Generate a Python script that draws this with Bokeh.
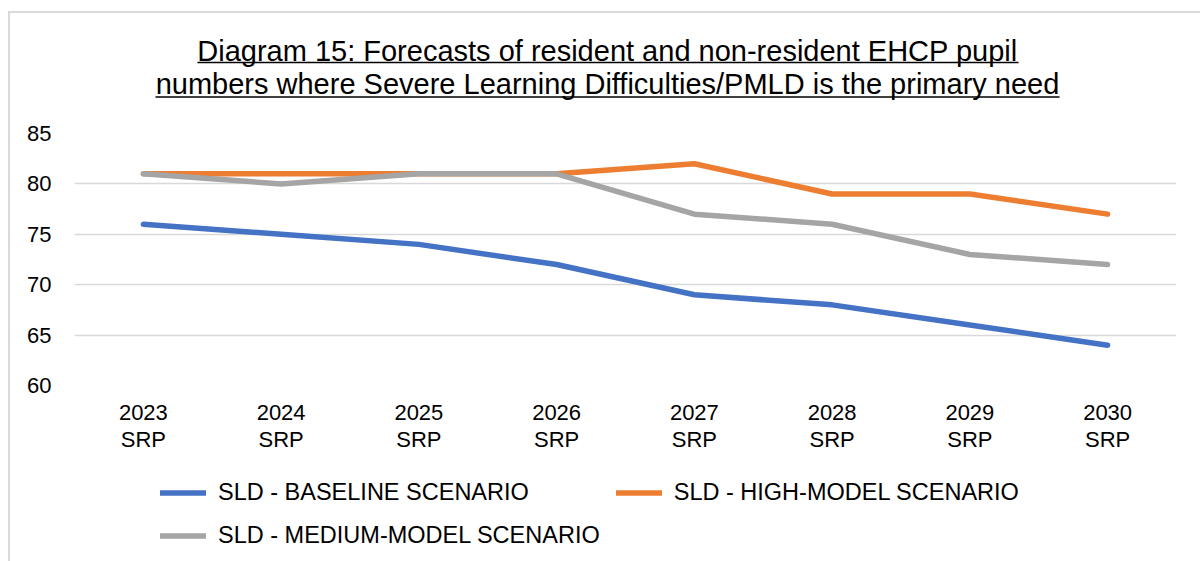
from bokeh.plotting import figure
from bokeh.models import Range1d, Legend, LegendItem, FactorRange
from bokeh.layouts import column
from bokeh.core.properties import value
from bokeh.embed import file_html
from bokeh.resources import INLINE

categories = ["2023\nSRP", "2024\nSRP", "2025\nSRP", "2026\nSRP", "2027\nSRP", "2028\nSRP", "2029\nSRP", "2030\nSRP"]
baseline = [76, 75, 74, 72, 69, 68, 66, 64]
high_model = [81, 81, 81, 81, 82, 79, 79, 77]
medium_model = [81, 80, 81, 81, 77, 76, 73, 72]
series_names = ["SLD - BASELINE SCENARIO", "SLD - HIGH-MODEL SCENARIO", "SLD - MEDIUM-MODEL SCENARIO"]
colors = ["#4472C4", "#ED7D31", "#A5A5A5"]
y_ticks = [60, 65, 70, 75, 80, 85]
title_lines = ["Diagram 15: Forecasts of resident and non-resident EHCP pupil",
               "numbers where Severe Learning Difficulties/PMLD is the primary need"]

FONT = "Liberation Sans"
BL, BR, FW = 64, 24, 1102          # shared borders / frame width (frames are aligned in the column)


def blank(height, x_range, y_range):
    f = figure(frame_width=FW, frame_height=height, x_range=x_range, y_range=y_range,
               x_axis_type=None, y_axis_type=None, output_backend="svg", toolbar_location=None,
               min_border_left=BL, min_border_right=BR, min_border_top=0, min_border_bottom=0)
    f.outline_line_color = None
    f.xgrid.grid_line_color = None
    f.ygrid.grid_line_color = None
    return f


# ---- title block (page pixel coordinates: x 74..1176, y 13..118) ----
pt = blank(105, Range1d(74, 1176), Range1d(118, 13))
pt.text(x=[607, 607], y=[50, 83], text=title_lines, text_align="center", text_baseline="middle",
        text_font=value(FONT), text_font_size="29px", text_color="black")
pt.segment(x0=[197, 155], x1=[1018, 1059], y0=[62, 96.5], y1=[62, 96.5], line_color="black", line_width=1.6)

# ---- main chart ----
p = figure(frame_width=FW, frame_height=252, x_range=FactorRange(*categories, range_padding=0),
           y_range=Range1d(60, 85), output_backend="svg", toolbar_location=None,
           min_border_left=BL, min_border_right=BR, min_border_top=15, min_border_bottom=75)
p.x_range.factor_padding = 0
p.outline_line_color = None
p.xgrid.grid_line_color = None
p.ygrid.grid_line_color = "#D9D9D9"
p.ygrid.grid_line_width = 1.5
p.yaxis.ticker = y_ticks

for ax in (p.xaxis[0], p.yaxis[0]):
    ax.axis_line_color = None
    ax.major_tick_line_color = None
    ax.minor_tick_line_color = None
    ax.major_label_text_font = FONT
    ax.major_label_text_font_size = "22px"
    ax.major_label_text_color = "black"
p.yaxis.major_label_standoff = 17
p.xaxis.major_label_standoff = 8
p.xaxis.major_label_text_line_height = 1.1

for vals, col in zip([baseline, high_model, medium_model], colors):
    p.line(categories, vals, line_color=col, line_width=5.5, line_cap="round", line_join="round")

# ---- legend block ----
pl = blank(101, Range1d(0, 1), Range1d(0, 1))
dummies = [pl.line(x=[-5, -4], y=[-5, -4], line_color=c, line_width=5.5, line_cap="round") for c in colors]
order = [0, 2, 1]
legend = Legend(items=[LegendItem(label=series_names[i], renderers=[dummies[i]]) for i in order],
                ncols=2, label_text_font=FONT, label_text_font_size="23.5px", label_text_color="black",
                glyph_width=46, glyph_height=25, label_height=25, border_line_color=None,
                background_fill_alpha=0, spacing=16, label_standoff=12, padding=0,
                location=(86, 12))
pl.add_layout(legend)

layout = column(pt, p, pl, spacing=0,
                styles={"border-top": "2px solid #D9D9D9", "border-left": "2px solid #D9D9D9",
                        "margin-left": "8px", "margin-top": "11px"})

open("out.html", "w").write(file_html(layout, INLINE))
